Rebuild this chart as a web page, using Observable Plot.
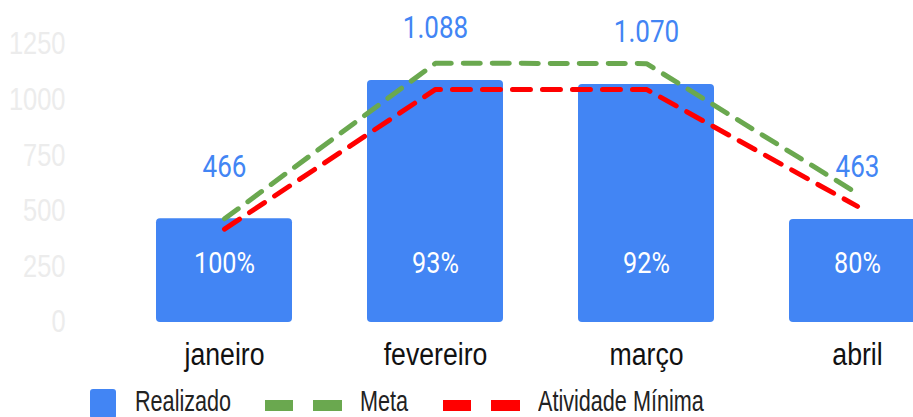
<!DOCTYPE html>
<html>
<head>
<meta charset="utf-8">
<script src="https://cdn.jsdelivr.net/npm/d3@7"></script>
<script src="https://cdn.jsdelivr.net/npm/@observablehq/plot@0.6"></script>
<style>
  html, body { margin: 0; padding: 0; background: #fff; overflow: hidden; width: 913px; height: 417px; }
  #chart svg { overflow: hidden; }
  .legend { position: absolute; left: 0; top: 385px; width: 913px; height: 32px; font-family: "Liberation Sans", Arial, sans-serif; font-size: 29px; color: #222; }
  .legend .item { position: absolute; top: 0; height: 32px; line-height: 32px; white-space: nowrap; transform: scaleX(0.745); transform-origin: 0 50%; }
  .legend svg { position: absolute; }
</style>
</head>
<body>
<div id="chart"></div>
<div class="legend" id="legend"></div>
<script>
const months = ["janeiro", "fevereiro", "março", "abril"];
const realizado = [466, 1088, 1070, 463];
const valueLabels = ["466", "1.088", "1.070", "463"];
const pctLabels = ["100%", "93%", "92%", "80%"];
const meta = [466, 1166, 1164, 580];
const atividadeMinima = [420, 1048, 1048, 522];
const yTicks = [0, 250, 500, 750, 1000, 1250];

const blue = "#4285f4";
const green = "#6aa84f";
const red = "#ff0000";
const sans = "'Liberation Sans', Arial, sans-serif";
const roboto = "Roboto, sans-serif";

const rows = months.map((m, i) => ({
  month: m, value: realizado[i], label: valueLabels[i], pct: pctLabels[i],
  meta: meta[i], min: atividadeMinima[i]
}));

const chart = Plot.plot({
  width: 913,
  height: 385,
  marginTop: 44,
  marginBottom: 63,
  marginLeft: 70,
  marginRight: 0,
  style: { fontFamily: sans, background: "transparent", overflow: "hidden" },
  x: { domain: months, range: [155, 925], paddingInner: 0.356, paddingOuter: 0, label: null },
  y: { domain: [0, 1250], label: null },
  marks: [
    Plot.axisY({ ticks: yTicks, tickSize: 0, tickPadding: 5, fontSize: 31, fill: "#ececec", label: null, tickFormat: d => String(d) }),
    Plot.axisX({ tickSize: 0, tickPadding: 20, fontSize: 31, fill: "#111", label: null }),
    Plot.barY(rows, { x: "month", y: "value", fill: blue, rx: 4 }),
    Plot.line(rows, { x: "month", y: "meta", stroke: green, strokeWidth: 5, strokeDasharray: "17,12" }),
    Plot.line(rows, { x: "month", y: "min", stroke: red, strokeWidth: 5, strokeDasharray: "18,12" }),
    Plot.text(rows, { x: "month", y: "value", text: "label", dy: -52, fill: blue, fontSize: 31, fontFamily: roboto }),
    Plot.text(rows, { x: "month", y: () => 0, text: "pct", dy: -59, fill: "white", fontSize: 30, fontFamily: roboto })
  ]
});
document.getElementById("chart").appendChild(chart);

// condense the text (the original uses a narrow face)
function condense(selector, k) {
  chart.querySelectorAll(selector).forEach(t => {
    const len = t.getComputedTextLength();
    if (len > 0) {
      t.setAttribute("textLength", (len * k).toFixed(1));
      t.setAttribute("lengthAdjust", "spacingAndGlyphs");
    }
  });
}
condense('g[aria-label="y-axis tick label"] text', 0.82);
condense('g[aria-label="x-axis tick label"] text', 0.86);
condense('g[aria-label="text"] text', 0.84);

// legend
const legend = document.getElementById("legend");
const legendItems = [
  { name: "Realizado", type: "rect", color: blue, swatchX: 90, textX: 135 },
  { name: "Meta", type: "dash", color: green, swatchX: 265, textX: 360 },
  { name: "Atividade Mínima", type: "dash", color: red, swatchX: 443, textX: 538 }
];
legendItems.forEach(it => {
  const s = document.createElementNS("http://www.w3.org/2000/svg", "svg");
  if (it.type === "rect") {
    s.setAttribute("width", 27); s.setAttribute("height", 30);
    s.style.left = it.swatchX + "px"; s.style.top = "4px";
    s.innerHTML = `<rect x="0" y="0" width="26" height="30" rx="3" fill="${it.color}"/>`;
  } else {
    s.setAttribute("width", 78); s.setAttribute("height", 12);
    s.style.left = it.swatchX + "px"; s.style.top = "15px";
    s.innerHTML = `<rect x="0" y="0" width="28" height="11" fill="${it.color}"/><rect x="48" y="0" width="29" height="11" fill="${it.color}"/>`;
  }
  legend.appendChild(s);
  const t = document.createElement("div");
  t.className = "item";
  t.style.left = it.textX + "px";
  t.textContent = it.name;
  legend.appendChild(t);
});
</script>
</body>
</html>
